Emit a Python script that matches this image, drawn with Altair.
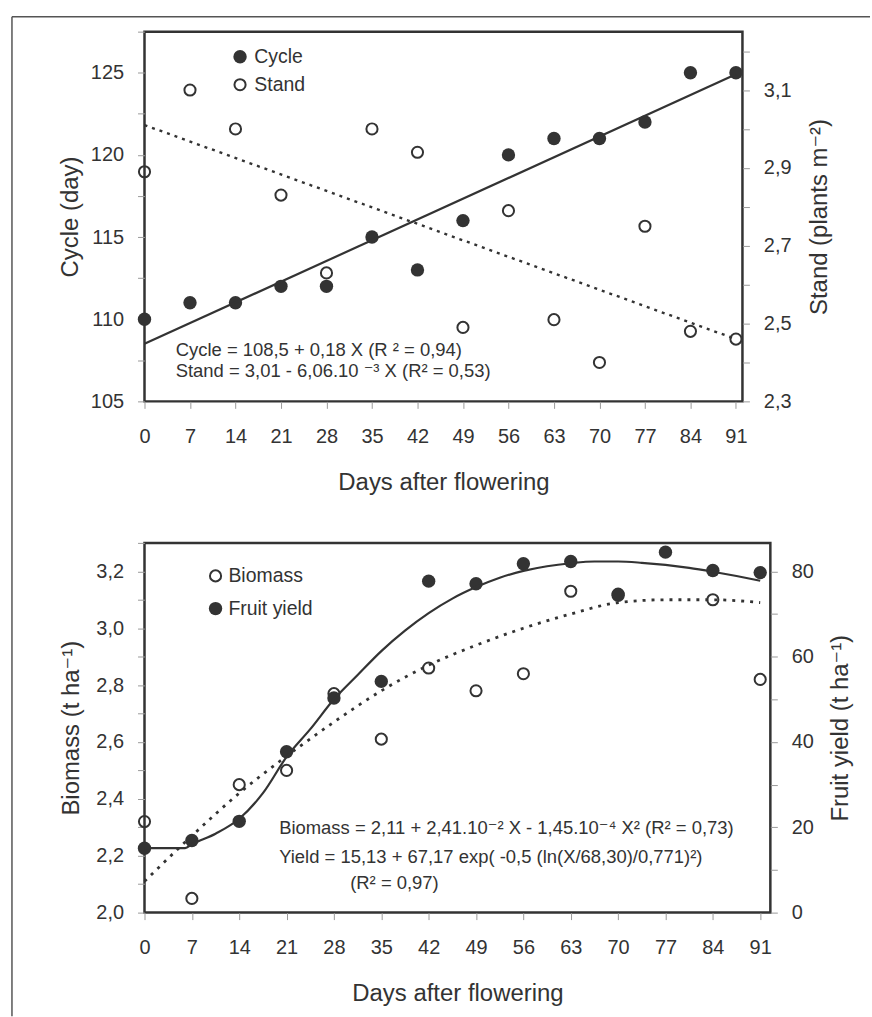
import altair as alt
import pandas as pd

FONT = "Liberation Sans, Arial, DejaVu Sans"
INK = "#333333"
TICK = "#9a9a9a"

# ---------------- data: top panel ----------------
days = [0, 7, 14, 21, 28, 35, 42, 49, 56, 63, 70, 77, 84, 91]
cycle = [110, 111, 111, 112, 112, 115, 113, 116, 120, 121, 121, 122, 125, 125]
stand = [2.89, 3.10, 3.00, 2.83, 2.63, 3.00, 2.94, 2.49, 2.79, 2.51, 2.40, 2.75, 2.48, 2.46]
cycle_fit_x = [0, 91]
cycle_fit_y = [108.5, 124.9]
stand_fit_x = [0, 91]
stand_fit_y = [3.01, 2.46]

cycle_ticks = [105, 107.5, 110, 112.5, 115, 117.5, 120, 122.5, 125, 127.5]
stand_ticks = [2.3, 2.4, 2.5, 2.6, 2.7, 2.8, 2.9, 3.0, 3.1, 3.2]

top_eq_text = ["Cycle = 108,5 + 0,18 X (R \u00b2 = 0,94)",
               "Stand = 3,01 - 6,06.10 \u207b\u00b3 X (R\u00b2 = 0,53)"]
top_eq_x = [4.8, 4.8]
top_eq_y = [108.15, 106.85]
top_leg_text = ["Cycle", "Stand"]
top_leg_x = [14.7, 14.7]
top_leg_tx = [16.9, 16.9]
top_leg_y = [125.97, 124.27]

# ---------------- data: bottom panel ----------------
biomass_days = [0, 7, 14, 21, 28, 35, 42, 49, 56, 63, 70, 84, 91]
biomass = [2.32, 2.05, 2.45, 2.50, 2.77, 2.61, 2.86, 2.78, 2.84, 3.13, 3.12, 3.10, 2.82]
fruit_yield = [15.1, 16.9, 21.4, 37.7, 50.3, 54.2, 77.7, 77.1, 81.8, 82.3, 74.4, 84.5, 80.2, 79.7]

biomass_curve_x = [0, 7, 14, 21, 28, 35, 42, 49, 56, 63, 70, 77, 84, 91]
biomass_curve_y = [2.11, 2.27, 2.42, 2.55, 2.67, 2.78, 2.87, 2.94, 3.00, 3.05, 3.09, 3.10, 3.10, 3.09]
yield_curve_x = [0, 6, 7, 10.5, 14, 17.5, 21, 24.5, 28, 31.5, 35, 38.5, 42, 45.5, 49,
                 52.5, 56, 59.5, 63, 66.5, 70, 73.5, 77, 80.5, 84, 87.5, 91]
yield_curve_y = [15.1, 15.1, 16.0, 18.5, 22.0, 28.0, 36.5, 43.0, 50.0, 55.7, 61.3, 66.1, 70.2,
                 73.6, 76.3, 78.5, 80.1, 81.2, 81.9, 82.3, 82.3, 82.0, 81.5, 80.8, 79.9, 78.9, 77.8]

biomass_ticks = [2.0, 2.1, 2.2, 2.3, 2.4, 2.5, 2.6, 2.7, 2.8, 2.9, 3.0, 3.1, 3.2, 3.3]
yield_ticks = [0, 10, 20, 30, 40, 50, 60, 70, 80]

bot_eq_text = ["Biomass = 2,11 + 2,41.10\u207b\u00b2 X - 1,45.10\u207b\u2074 X\u00b2 (R\u00b2 = 0,73)",
               "Yield = 15,13 + 67,17 exp( -0,5 (ln(X/68,30)/0,771)\u00b2)",
               "(R\u00b2 = 0,97)"]
bot_eq_x = [19.9, 19.9, 30.4]
bot_eq_y = [2.297, 2.197, 2.103]
bot_leg_text = ["Biomass", "Fruit yield"]
bot_leg_x = [10.5, 10.5]
bot_leg_tx = [12.4, 12.4]
bot_leg_y = [3.184, 3.069]

# ---------------- helpers ----------------
TOP_W, TOP_H = 600, 371
BOT_W, BOT_H = 628, 371
FS_EQ = 18.5
FS_LEG = 19.5
FILLED = 180
OPEN = 125


def xenc(dmax):
    return alt.X("x:Q",
                 scale=alt.Scale(domain=[0, dmax], nice=False, zero=False),
                 axis=alt.Axis(values=days, title="Days after flowering", format="d",
                               labelOverlap=False, labelFlush=False))


def yenc(domain, ticks, title, orient, expr, tpad):
    extra = {}
    if orient == "right":
        extra = dict(titleAngle=270, titleBaseline="top")
    return alt.Y("y:Q",
                 scale=alt.Scale(domain=domain, nice=False, zero=False),
                 axis=alt.Axis(values=ticks, title=title, orient=orient, labelExpr=expr,
                               labelOverlap=False, labelFlush=False, titlePadding=tpad, **extra))


def df(x, y, **kw):
    d = pd.DataFrame({"x": x, "y": y})
    for k, v in kw.items():
        d[k] = v
    return d


# ---------------- top panel ----------------
def top_left_y():
    return yenc([105, 127.5], cycle_ticks, "Cycle (day)", "left",
                "datum.value % 5 == 0 ? format(datum.value, 'd') : ''", 8)


def top_right_y():
    return yenc([2.3, 3.25], stand_ticks, "Stand (plants m\u207b\u00b2)", "right",
                "round(datum.value*10) % 2 == 1 ? replace(format(datum.value, '.1f'), '.', ',') : ''", 17)


X1 = lambda: xenc(92)

cyc_pts = alt.Chart(df(days, cycle)).mark_circle(size=FILLED, color=INK, opacity=1).encode(x=X1(), y=top_left_y())
cyc_fit = alt.Chart(df(cycle_fit_x, cycle_fit_y)).mark_line(color=INK, strokeWidth=2.2).encode(x=X1(), y=top_left_y())
top_eq = alt.Chart(df(top_eq_x, top_eq_y, t=top_eq_text)).mark_text(
    align="left", baseline="middle", fontSize=FS_EQ, font=FONT, color=INK).encode(x=X1(), y=top_left_y(), text="t:N")
top_leg_f = alt.Chart(df(top_leg_x[:1], top_leg_y[:1])).mark_circle(size=FILLED, color=INK, opacity=1).encode(x=X1(), y=top_left_y())
top_leg_o = alt.Chart(df(top_leg_x[1:], top_leg_y[1:])).mark_point(size=OPEN, strokeWidth=2, color=INK, opacity=1, filled=False).encode(x=X1(), y=top_left_y())
top_leg_t = alt.Chart(df(top_leg_tx, top_leg_y, t=top_leg_text)).mark_text(
    align="left", baseline="middle", fontSize=FS_LEG, font=FONT, color=INK).encode(x=X1(), y=top_left_y(), text="t:N")

border_v = alt.Chart(pd.DataFrame({"k": [0]})).mark_rule(color="#555555", strokeWidth=1.5).encode(
    x=alt.value(-133), y=alt.value(-15), y2=alt.value(988))
border_h = alt.Chart(pd.DataFrame({"k": [0]})).mark_rule(color="#555555", strokeWidth=1.5).encode(
    x=alt.value(-133), x2=alt.value(728), y=alt.value(-15))

std_pts = alt.Chart(df(days, stand)).mark_point(size=OPEN, strokeWidth=2, color=INK, opacity=1, filled=False).encode(x=X1(), y=top_right_y())
std_fit = alt.Chart(df(stand_fit_x, stand_fit_y)).mark_line(color=INK, strokeWidth=2.4, strokeDash=[3, 5]).encode(x=X1(), y=top_right_y())

top = alt.layer(
    alt.layer(cyc_pts, cyc_fit, top_eq, top_leg_f, top_leg_o, top_leg_t, border_v, border_h),
    alt.layer(std_pts, std_fit),
).resolve_scale(y="independent").properties(width=TOP_W, height=TOP_H)


# ---------------- bottom panel ----------------
def bot_left_y():
    return yenc([2.0, 3.3], biomass_ticks, "Biomass (t ha\u207b\u00b9)", "left",
                "round(datum.value*10) % 2 == 0 ? replace(format(datum.value, '.1f'), '.', ',') : ''", 12)


def bot_right_y():
    return yenc([0, 86.667], yield_ticks, "Fruit yield (t ha\u207b\u00b9)", "right",
                "datum.value % 20 == 0 ? format(datum.value, 'd') : ''", 15)


X2 = lambda: xenc(92.5)

bio_pts = alt.Chart(df(biomass_days, biomass)).mark_point(size=OPEN, strokeWidth=2, color=INK, opacity=1, filled=False).encode(x=X2(), y=bot_left_y())
bio_fit = alt.Chart(df(biomass_curve_x, biomass_curve_y)).mark_line(
    color=INK, strokeWidth=2.8, strokeDash=[3, 6], interpolate="monotone").encode(x=X2(), y=bot_left_y())
bot_eq = alt.Chart(df(bot_eq_x, bot_eq_y, t=bot_eq_text)).mark_text(
    align="left", baseline="middle", fontSize=FS_EQ, font=FONT, color=INK).encode(x=X2(), y=bot_left_y(), text="t:N")
bot_leg_o = alt.Chart(df(bot_leg_x[:1], bot_leg_y[:1])).mark_point(size=OPEN, strokeWidth=2, color=INK, opacity=1, filled=False).encode(x=X2(), y=bot_left_y())
bot_leg_f = alt.Chart(df(bot_leg_x[1:], bot_leg_y[1:])).mark_circle(size=FILLED, color=INK, opacity=1).encode(x=X2(), y=bot_left_y())
bot_leg_t = alt.Chart(df(bot_leg_tx, bot_leg_y, t=bot_leg_text)).mark_text(
    align="left", baseline="middle", fontSize=FS_LEG, font=FONT, color=INK).encode(x=X2(), y=bot_left_y(), text="t:N")

yld_pts = alt.Chart(pd.DataFrame({"x": days, "y": fruit_yield})).mark_circle(size=FILLED, color=INK, opacity=1).encode(x=X2(), y=bot_right_y())
yld_fit = alt.Chart(df(yield_curve_x, yield_curve_y)).mark_line(
    color=INK, strokeWidth=2.2, interpolate="monotone").encode(x=X2(), y=bot_right_y())

bottom = alt.layer(
    alt.layer(bio_pts, bio_fit, bot_eq, bot_leg_o, bot_leg_f, bot_leg_t),
    alt.layer(yld_pts, yld_fit),
).resolve_scale(y="independent").properties(width=BOT_W, height=BOT_H)

chart = alt.vconcat(top, bottom, spacing=142, bounds="flush").properties(
    padding={"left": 10, "top": 13, "right": 0, "bottom": 0},
    background="white",
).configure_view(
    stroke=INK, strokeWidth=2.5
).configure_axis(
    labelFont=FONT, titleFont=FONT, labelFontSize=20, titleFontSize=24,
    labelColor=INK, titleColor=INK, titleFontWeight="normal",
    tickColor=TICK, tickSize=7, tickWidth=1, domain=False, grid=False,
    labelPadding=14,
).configure_axisX(
    labelPadding=18, titlePadding=24,
).configure_text(font=FONT)

chart.save("out.html", embed_options={"renderer": "svg", "actions": False})
